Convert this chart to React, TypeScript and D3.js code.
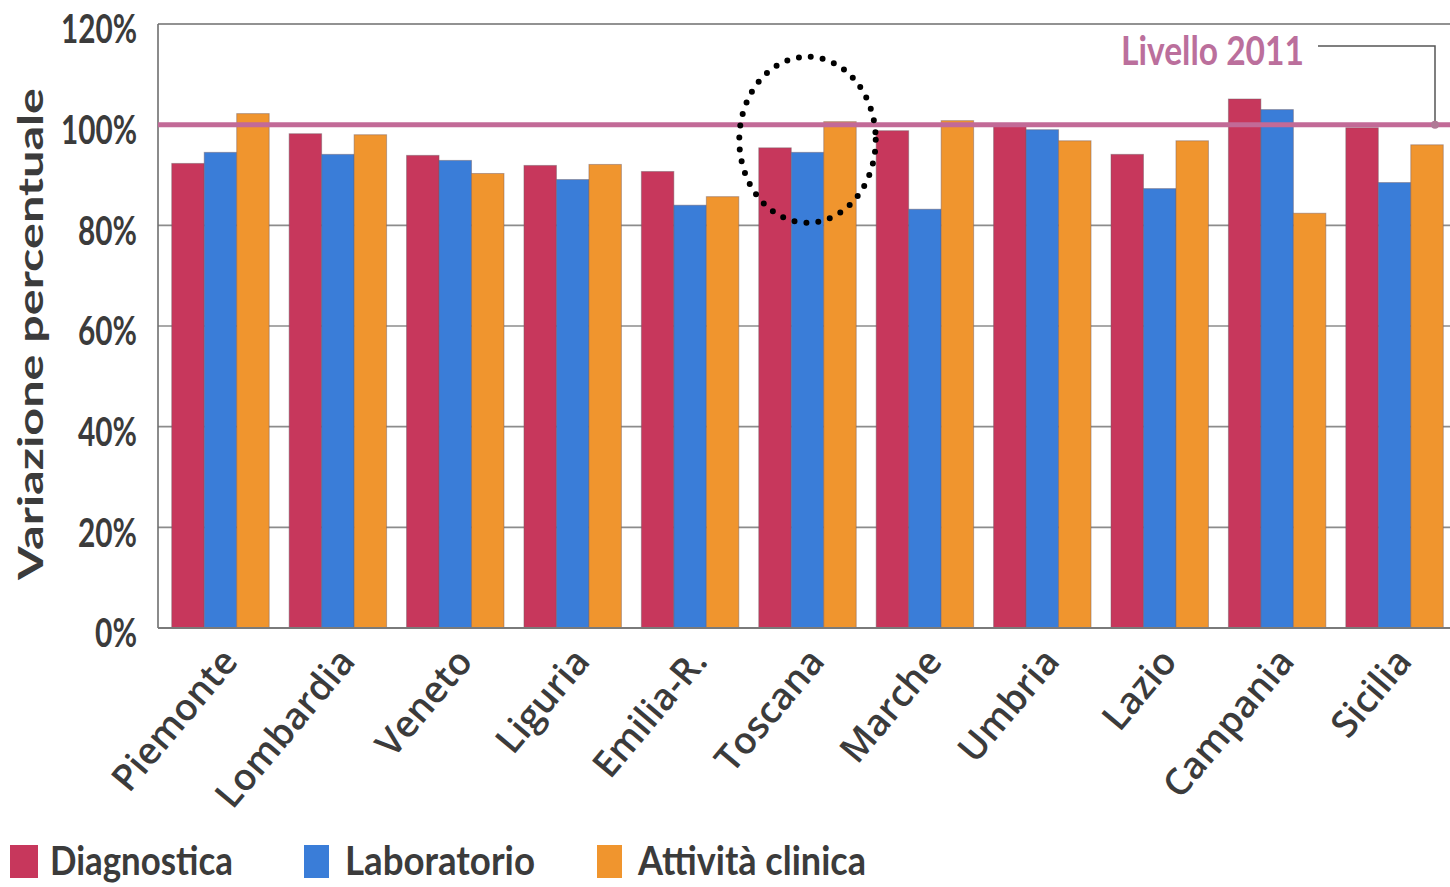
import React, { useEffect, useRef } from "react";
import * as d3 from "d3";

const regions = [
  "Piemonte",
  "Lombardia",
  "Veneto",
  "Liguria",
  "Emilia-R.",
  "Toscana",
  "Marche",
  "Umbria",
  "Lazio",
  "Campania",
  "Sicilia",
];

const seriesNames = ["Diagnostica", "Laboratorio", "Attività clinica"];
const seriesColors = ["#c7375c", "#3a7dd8", "#f0952e"];

const diagnostica = [92.3, 98.2, 93.9, 91.9, 90.7, 95.4, 98.8, 100.0, 94.1, 105.1, 99.4];
const laboratorio = [94.5, 94.1, 92.9, 89.1, 84.0, 94.5, 83.2, 99.0, 87.3, 103.0, 88.5];
const attivita = [102.2, 98.0, 90.3, 92.1, 85.7, 100.6, 100.8, 96.8, 96.8, 82.4, 96.0];

const yTicks = [0, 20, 40, 60, 80, 100, 120];
const level2011 = 100;
const highlighted = "Toscana";

const W = 1450;
const H = 887;

const Chart = () => {
  const ref = useRef<SVGSVGElement>(null);

  useEffect(() => {
    document.body.style.margin = "0";
    const svg = d3.select(ref.current);
    svg.selectAll("*").remove();

    const left = 158;
    const top = 24;
    const bottom = 628;

    const x = d3
      .scaleBand()
      .domain(regions)
      .range([160, 1455])
      .paddingInner(0.17)
      .paddingOuter(0.1);

    const xs = d3
      .scaleBand()
      .domain(seriesNames)
      .range([0, x.bandwidth()])
      .padding(0);

    const y = d3.scaleLinear().domain([0, 120]).range([bottom, top]);

    const series = [diagnostica, laboratorio, attivita];

    // gridlines
    svg
      .append("g")
      .selectAll("line")
      .data(yTicks.filter((t) => t > 0 && t < 120))
      .join("line")
      .attr("x1", left)
      .attr("x2", W)
      .attr("y1", (d) => y(d))
      .attr("y2", (d) => y(d))
      .attr("stroke", "#8c8c8c")
      .attr("stroke-width", 1.6);

    // frame: top + left
    svg
      .append("line")
      .attr("x1", left)
      .attr("x2", W)
      .attr("y1", y(120))
      .attr("y2", y(120))
      .attr("stroke", "#6e6e6e")
      .attr("stroke-width", 1.6);
    svg
      .append("line")
      .attr("x1", left)
      .attr("x2", left)
      .attr("y1", y(120))
      .attr("y2", y(0))
      .attr("stroke", "#6e6e6e")
      .attr("stroke-width", 1.6);

    // bars
    const groups = svg
      .append("g")
      .selectAll("g")
      .data(regions)
      .join("g")
      .attr("transform", (d) => `translate(${x(d)},0)`);

    groups
      .selectAll("rect")
      .data((_, i) => seriesNames.map((s, j) => ({ s, v: series[j][i], j })))
      .join("rect")
      .attr("x", (d) => xs(d.s)!)
      .attr("width", xs.bandwidth())
      .attr("y", (d) => y(d.v))
      .attr("height", (d) => y(0) - y(d.v))
      .attr("fill", (d) => seriesColors[d.j])
      .attr("stroke", "rgba(110,90,100,0.45)")
      .attr("stroke-width", 1);

    // baseline
    svg
      .append("line")
      .attr("x1", left)
      .attr("x2", W)
      .attr("y1", y(0))
      .attr("y2", y(0))
      .attr("stroke", "#7a7a7a")
      .attr("stroke-width", 2);

    // level 2011 line
    svg
      .append("line")
      .attr("x1", left)
      .attr("x2", W)
      .attr("y1", y(level2011))
      .attr("y2", y(level2011))
      .attr("stroke", "#c26a97")
      .attr("stroke-width", 5);

    // callout
    const cx = 1435;
    svg
      .append("path")
      .attr("d", `M1318,46H${cx}V${y(level2011)}`)
      .attr("fill", "none")
      .attr("stroke", "#555")
      .attr("stroke-width", 1.5);
    svg
      .append("circle")
      .attr("cx", cx)
      .attr("cy", y(level2011))
      .attr("r", 4)
      .attr("fill", "#b07a96");
    svg
      .append("text")
      .attr("x", 1121)
      .attr("y", 65)
      .attr("font-family", "Lato, sans-serif")
      .attr("font-weight", 700)
      .attr("font-size", 40)
      .attr("fill", "#bb6f9c")
      .attr("textLength", 183)
      .attr("lengthAdjust", "spacingAndGlyphs")
      .text("Livello 2011");

    // y tick labels
    svg
      .append("g")
      .selectAll("text")
      .data(yTicks)
      .join("text")
      .attr("x", 137)
      .attr("y", (d) => y(d) + 5)
      .attr("dy", "0.36em")
      .attr("text-anchor", "end")
      .attr("font-family", "Lato, sans-serif")
      .attr("font-weight", 700)
      .attr("font-size", 40)
      .attr("fill", "#3b3b3b")
      .attr("textLength", (d) => `${d}`.length * 17 + 25)
      .attr("lengthAdjust", "spacingAndGlyphs")
      .text((d) => `${d}%`);

    // y title
    svg
      .append("text")
      .attr("transform", `translate(43,${(88 + 580) / 2}) rotate(-90)`)
      .attr("text-anchor", "middle")
      .attr("font-family", "Lato, sans-serif")
      .attr("font-weight", 700)
      .attr("font-size", 34)
      .attr("fill", "#3b3b3b")
      .attr("textLength", 492)
      .attr("lengthAdjust", "spacingAndGlyphs")
      .text("Variazione percentuale");

    // x labels
    svg
      .append("g")
      .selectAll("text")
      .data(regions)
      .join("text")
      .attr(
        "transform",
        (d) => `translate(${x(d)! + x.bandwidth() / 2 + 9},${y(0) + 26}) rotate(-50)`,
      )
      .attr("text-anchor", "end")
      .attr("dy", "0.35em")
      .attr("font-family", "'Open Sans', sans-serif")
      .attr("font-weight", 600)
      .attr("font-size", 37)
      .attr("fill", "#3b3b3b")
      .text((d) => d);

    // highlight ellipse
    const hx = x(highlighted)! + x.bandwidth() / 2;
    svg
      .append("ellipse")
      .attr("cx", hx)
      .attr("cy", y(97))
      .attr("rx", x.bandwidth() * 0.7)
      .attr("ry", y(80) - y(96.5))
      .attr("fill", "none")
      .attr("stroke", "#000")
      .attr("stroke-width", 6)
      .attr("stroke-linecap", "round")
      .attr("stroke-dasharray", "0 12");

    // legend
    const legendX = [10, 304, 597];
    const legendW = [183, 190, 228];
    const lg = svg
      .append("g")
      .selectAll("g")
      .data(seriesNames)
      .join("g")
      .attr("transform", (_, i) => `translate(${legendX[i]},0)`);
    lg.append("rect")
      .attr("x", 0)
      .attr("y", 845)
      .attr("width", (_, i) => (i === 0 ? 28 : 25))
      .attr("height", 33)
      .attr("fill", (_, i) => seriesColors[i]);
    lg.append("text")
      .attr("x", (_, i) => (i === 0 ? 40 : 41))
      .attr("y", 875)
      .attr("font-family", "Lato, sans-serif")
      .attr("font-weight", 700)
      .attr("font-size", 40)
      .attr("fill", "#3b3b3b")
      .attr("textLength", (_, i) => legendW[i])
      .attr("lengthAdjust", "spacingAndGlyphs")
      .text((d) => d);
  }, []);

  return (
    <svg
      ref={ref}
      width={W}
      height={H}
      style={{ position: "absolute", left: 0, top: 0, background: "#fff" }}
    />
  );
};

export default function App() {
  return <Chart />;
}
